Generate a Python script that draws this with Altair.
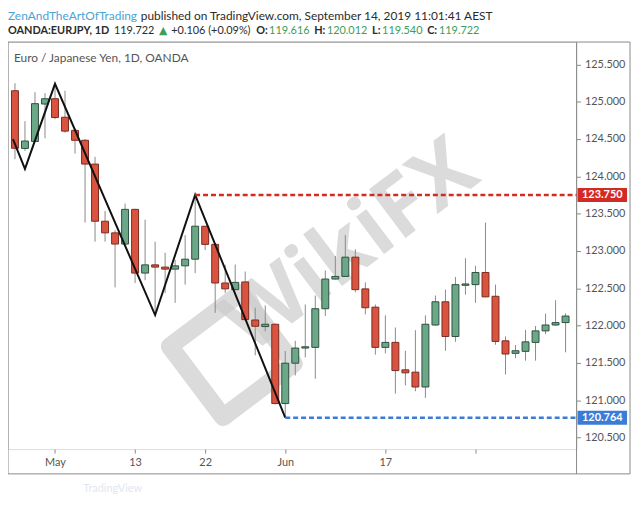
import altair as alt
import pandas as pd

# ---------------- data ----------------
day_index = list(range(56))
opens = [125.147, 124.374, 124.467, 124.969, 125.040, 124.792, 124.616, 124.483, 124.164, 123.398,
         123.242, 123.092, 123.557, 122.703, 122.813, 122.783, 122.756, 122.800, 122.889, 123.331,
         123.088, 122.570, 122.481, 122.584, 122.074, 121.986, 122.017, 120.954, 121.495, 121.698,
         121.707, 122.225, 122.623, 122.658, 122.916, 122.491, 122.246, 121.707, 121.774, 121.406,
         121.375, 121.176, 122.007, 122.318, 121.853, 122.539, 122.548, 122.711, 122.392, 121.795,
         121.627, 121.654, 121.774, 121.928, 122.007, 122.039]
highs = [125.248, 124.739, 125.128, 125.115, 125.235, 125.147, 124.642, 124.500, 124.261, 123.535,
         123.278, 123.633, 123.565, 123.418, 123.123, 122.976, 122.880, 123.212, 123.750, 123.335,
         123.095, 122.813, 122.817, 122.724, 122.238, 122.269, 122.025, 121.658, 121.795, 122.282,
         122.402, 122.738, 122.933, 123.212, 123.022, 122.578, 122.282, 122.136, 121.973, 121.662,
         121.937, 122.136, 122.402, 122.481, 122.650, 122.902, 122.800, 123.380, 122.548, 121.853,
         121.738, 121.941, 121.994, 122.159, 122.339, 122.163]
lows = [124.230, 124.341, 124.460, 124.509, 124.766, 124.584, 124.305, 123.380, 123.123, 123.123,
        122.512, 123.085, 122.570, 122.607, 122.140, 122.438, 122.304, 122.548, 122.703, 123.012,
        122.171, 122.438, 122.475, 122.070, 121.601, 121.924, 120.941, 120.764, 121.330, 121.574,
        121.286, 122.127, 122.615, 122.650, 122.446, 122.150, 121.609, 121.627, 121.087, 121.197,
        121.118, 121.030, 121.995, 121.662, 121.781, 122.414, 122.304, 122.380, 121.742, 121.343,
        121.561, 121.529, 121.529, 121.884, 121.995, 121.641]
closes = [124.376, 124.473, 124.974, 125.040, 124.788, 124.606, 124.483, 124.164, 123.398, 123.242,
          123.092, 123.557, 122.703, 122.813, 122.783, 122.756, 122.800, 122.889, 123.331, 123.088,
          122.570, 122.491, 122.578, 122.079, 121.990, 122.017, 120.954, 121.495, 121.698, 121.715,
          122.225, 122.623, 122.658, 122.916, 122.481, 122.238, 121.707, 121.774, 121.396, 121.366,
          121.176, 122.017, 122.318, 121.853, 122.548, 122.557, 122.711, 122.384, 121.787, 121.618,
          121.662, 121.781, 121.928, 122.007, 122.039, 122.127]

tick_index = [4, 12, 19, 27, 37, 46]
tick_labels = ["May", "13", "22", "Jun", "17", ""]
price_ticks = [120.5, 121.0, 121.5, 122.0, 122.5, 123.0, 123.5, 124.0, 124.5, 125.0, 125.5]

zig_index = [-0.2, 1, 4, 14, 18, 27]
zig_price = [124.50, 124.10, 125.24, 122.14, 123.75, 120.764]

level_start = [18, 27]
level_price = [123.750, 120.764]
level_names = ["resistance", "support"]

# header line 2 pieces: (text, kind)
quote_pieces = [("OANDA:EURJPY, 1D", "bold"), ("119.722", "plain"), ("▲", "up"),
                ("+0.106 (+0.09%)", "plain"), ("O:", "bold"), ("119.616", "green"),
                ("H:", "bold"), ("120.012", "green"), ("L:", "bold"), ("119.540", "green"),
                ("C:", "bold"), ("119.722", "green")]

# ---------------- tables ----------------
candles = pd.DataFrame({"i": day_index, "open": opens, "high": highs, "low": lows, "close": closes})
candles["dir"] = ["up" if c >= o else "down" for o, c in zip(opens, closes)]
zig = pd.DataFrame({"i": zig_index, "price": zig_price})
levels = pd.DataFrame({"start": level_start, "price": level_price, "name": level_names})
one = alt.Data(values=[{"k": 1}])

W, H = 574, 411
FONT = "Lato"
xs = alt.Scale(domain=[-0.2, 55.6], nice=False, zero=False)
ys = alt.Scale(domain=[120.343, 125.80], nice=False, zero=False)

label_expr = " : ".join(f"datum.value == {v} ? '{t}'" for v, t in zip(tick_index, tick_labels)) + " : ''"
XAXIS = alt.Axis(values=tick_index, labelExpr=label_expr, grid=False, domain=False, title=None,
                 tickSize=4, tickColor="#8a8a8a", labelColor="#555555", labelFont=FONT,
                 labelFontSize=11, labelPadding=4, orient="bottom")
YAXIS = alt.Axis(values=price_ticks, format=".3f", orient="right", grid=False, domain=False, title=None,
                 tickSize=4, tickColor="#8a8a8a", labelColor="#555555", labelFont=FONT,
                 labelFontSize=11, labelPadding=4)


def X(field):
    return alt.X(field, scale=xs, axis=XAXIS)


def Y(field):
    return alt.Y(field, scale=ys, axis=YAXIS)


UP_FILL, UP_STROKE = "#6aa888", "#2f4f3f"
DN_FILL, DN_STROKE = "#d9533f", "#7a2a20"

# ---------------- decorations ----------------
frame = alt.Chart(one).mark_rect(fill=None, stroke="#8a8a8a", strokeWidth=1).encode(
    x=alt.value(0), x2=alt.value(628), y=alt.value(0), y2=alt.value(436))
sep = alt.Chart(one).mark_rule(color="#8a8a8a", strokeWidth=1).encode(
    x=alt.value(W), y=alt.value(0), y2=alt.value(436))

wm_text = alt.Chart(one).mark_text(text="WikiFX", font="Open Sans", fontWeight="bold", fontSize=86,
                                   angle=323, color="#cccccc", opacity=0.7, align="center",
                                   baseline="middle").encode(x=alt.value(346), y=alt.value(207))
wm_logo = alt.Chart(one).mark_point(shape="square", size=8000, angle=323, filled=False,
                                    strokeWidth=18, strokeJoin="round", color="#cccccc",
                                    opacity=0.7).encode(x=alt.value(226), y=alt.value(316))
tv_mark = alt.Chart(one).mark_text(text="TradingView", font=FONT, fontSize=11, color="#dfe7ee",
                                   align="left", baseline="middle").encode(x=alt.value(76), y=alt.value(451))

# ---------------- candles ----------------
wicks = alt.Chart(candles).mark_rule(color="#8a8a8a", strokeWidth=1).encode(
    x=X("i:Q"), y=Y("low:Q"), y2="high:Q")

bodies = alt.Chart(candles).mark_bar(size=7, strokeWidth=1).encode(
    x=X("i:Q"), y=Y("open:Q"), y2="close:Q",
    color=alt.Color("dir:N", scale=alt.Scale(domain=["up", "down"], range=[UP_FILL, DN_FILL]), legend=None),
    stroke=alt.Stroke("dir:N", scale=alt.Scale(domain=["up", "down"], range=[UP_STROKE, DN_STROKE]), legend=None),
)

zigzag = alt.Chart(zig).mark_line(color="#111111", strokeWidth=2).encode(
    x=X("i:Q"), y=Y("price:Q"), order="i:Q")


# ---------------- levels ----------------
def level_layers(name, color):
    src = alt.Chart(levels).transform_filter(alt.datum.name == name)
    line = src.mark_rule(color=color, strokeWidth=2.5, strokeDash=[5, 3]).encode(
        x=X("start:Q"), x2=alt.value(W), y=Y("price:Q"))
    tag = src.mark_rect(color=color, yOffset=-7, y2Offset=7).encode(
        x=alt.value(W + 1), x2=alt.value(W + 51), y=Y("price:Q"), y2="price:Q")
    txt = src.mark_text(color="white", font=FONT, fontWeight="bold", fontSize=11,
                        align="center", baseline="middle").encode(
        x=alt.value(W + 26), y=Y("price:Q"), text=alt.Text("price:Q", format=".3f"))
    return [line, tag, txt]


res_layers = level_layers("resistance", "#d42a24")
sup_layers = level_layers("support", "#3b7dd6")


# ---------------- header texts ----------------
def label(text, x, y, color, size=12, weight="normal", font=FONT):
    return alt.Chart(one).mark_text(text=text, align="left", baseline="middle", fontSize=size,
                                    fontWeight=weight, color=color, font=font).encode(
        x=alt.value(x), y=alt.value(y))


# approximate Lato advance widths (em) to lay the coloured pieces side by side
EM = {"O": .78, "A": .69, "N": .75, "D": .75, ":": .27, "E": .57, "U": .72, "R": .64, "J": .43,
      "P": .62, "Y": .64, ",": .24, " ": .19, "H": .76, "L": .52, "C": .68, ".": .25, "+": .58,
      "(": .31, ")": .31, "%": .85, "▲": .72}


def text_width(s, size):
    return sum(EM.get(ch, .58) for ch in s) * size


GREEN = "#3a9e5c"
DARK = "#2b2b2b"
L1, L2 = -26, -11
S2 = 11
texts = [
    label("ZenAndTheArtOfTrading", 0, L1, "#4aa3d4"),
    label("published on TradingView.com, September 14, 2019 11:01:41 AEST", 134, L1, DARK),
    label("Euro / Japanese Yen, 1D, OANDA", 6, 16, "#555555", size=12),
]
cx = 0.0
for txt, kind in quote_pieces:
    if kind == "bold":
        texts.append(label(txt, cx, L2, DARK, size=S2, weight="bold"))
    elif kind == "up":
        texts.append(label(txt, cx, L2, GREEN, size=S2, font="DejaVu Sans"))
    elif kind == "green":
        texts.append(label(txt, cx, L2, GREEN, size=S2))
    else:
        texts.append(label(txt, cx, L2, DARK, size=S2))
    gap = 1.5 if kind == "bold" and txt.endswith(":") else 4.5
    cx += text_width(txt, S2) + gap

chart = alt.layer(
    frame, sep, wm_logo, wm_text, tv_mark, wicks, bodies, zigzag,
    *res_layers, *sup_layers, *texts
).properties(
    width=W, height=H,
    autosize=alt.AutoSizeParams(type="none"),
    padding={"left": 0, "top": 32, "right": 56, "bottom": 50},
).configure_view(stroke="#8a8a8a", strokeWidth=1).configure(background="white")

chart.save("out.html", embed_options={"renderer": "svg", "actions": False})
